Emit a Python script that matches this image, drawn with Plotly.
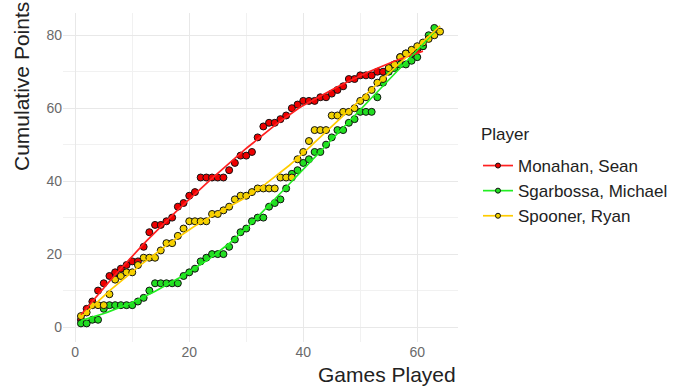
import numpy as np
import plotly.graph_objects as go

# Cumulative points after each game played
monahan = [2, 5, 7, 10, 12, 14, 15, 16, 17, 18, 18, 22, 26, 28, 28, 29, 30, 33, 34, 36,
           37, 41, 41, 41, 41, 41, 43, 45, 47, 47, 48, 52, 55, 56, 56, 57, 58, 60, 61, 62,
           62, 62, 63, 63, 64, 65, 66, 68, 68, 69, 69, 69, 70, 70, 71, 72, 74, 75, 75, 76,
           77]
sgarbossa = [1, 1, 2, 2, 5, 6, 6, 6, 6, 6, 7, 8, 10, 12, 12, 12, 12, 12, 14, 15,
             16, 18, 19, 20, 20, 20, 22, 24, 26, 27, 29, 30, 30, 33, 34, 35, 38, 42, 43, 45,
             46, 48, 48, 50, 52, 54, 54, 56, 57, 59, 59, 59, 63, 67, 70, 71, 72, 72, 73, 74,
             77, 80, 82]
spooner = [3, 4, 6, 6, 6, 9, 13, 14, 15, 15, 17, 19, 19, 19, 21, 23, 23, 25, 27, 29,
           29, 29, 29, 31, 31, 32, 33, 35, 36, 36, 37, 38, 38, 38, 38, 41, 41, 41, 46, 48,
           51, 54, 54, 54, 58, 58, 59, 59, 60, 62, 63, 65, 67, 68, 71, 72, 74, 75, 76, 77,
           78, 79, 80, 81]

players = ["Monahan, Sean", "Sgarbossa, Michael", "Spooner, Ryan"]
series = [monahan, sgarbossa, spooner]
point_fill = ["#ee0000", "#22dd22", "#f2d200"]
line_color = ["#ff2020", "#22ee22", "#ffcc00"]

x_ticks = [0, 20, 40, 60]
y_ticks = [0, 20, 40, 60, 80]


def loess(x, y, xs, span=0.75):
    """Local quadratic regression with tricube weights (like R's loess)."""
    x = np.asarray(x, float)
    y = np.asarray(y, float)
    q = int(np.floor(len(x) * span))
    out = []
    for x0 in xs:
        d = np.abs(x - x0)
        h = np.sort(d)[q - 1]
        w = np.clip(1 - (d / h) ** 3, 0, None) ** 3
        coef = np.polyfit(x, y, 2, w=np.sqrt(w))
        out.append(np.polyval(coef, x0))
    return np.array(out)


fig = go.Figure()

for name, vals, fcol, lcol in zip(players, series, point_fill, line_color):
    games = np.arange(1, len(vals) + 1)
    fig.add_trace(go.Scatter(
        x=games, y=vals, mode="markers", legendgroup=name, showlegend=False,
        marker=dict(size=7, color=fcol, line=dict(color="#111111", width=1)),
        hoverinfo="x+y+name", name=name))

for name, vals, fcol, lcol in zip(players, series, point_fill, line_color):
    games = np.arange(1, len(vals) + 1)
    xs = np.linspace(games[0], games[-1], 120)
    fig.add_trace(go.Scatter(
        x=xs, y=loess(games, vals, xs), mode="lines", legendgroup=name,
        showlegend=False, line=dict(color=lcol, width=1.7), hoverinfo="skip"))

# legend keys: line with dot, as in the plot
for name, fcol, lcol in zip(players, point_fill, line_color):
    fig.add_trace(go.Scatter(
        x=[None], y=[None], mode="lines+markers", name=name, legendgroup=name,
        line=dict(color=lcol, width=1.7),
        marker=dict(size=5, color=fcol, line=dict(color="#111111", width=1))))

font = "Liberation Sans, Arial, sans-serif"
fig.update_layout(
    width=674, height=388,
    margin=dict(l=63, r=216, t=13, b=46, autoexpand=False),
    paper_bgcolor="white", plot_bgcolor="white",
    font=dict(family=font, color="#222222"),
    showlegend=True,
    legend=dict(
        font=dict(size=17, color="#222222"),
        x=1.0506, xanchor="left", xref="paper", y=1 - (148 - 13) / 329, yanchor="top",
        tracegroupgap=0, bgcolor="rgba(0,0,0,0)", itemwidth=30),
    xaxis=dict(
        range=[-2.15, 67.15], tickvals=x_ticks, ticktext=[str(v) for v in x_ticks],
        showgrid=True, gridcolor="#e8e8e8", gridwidth=1, zeroline=False,
        showline=False, ticks="", tickfont=dict(size=14, color="#6a6a6a"),
        minor=dict(dtick=10, tick0=0, showgrid=True, gridcolor="#f1f1f1", gridwidth=1)),
    yaxis=dict(
        range=[-4.1, 86.1], tickvals=y_ticks, ticktext=[str(v) for v in y_ticks],
        showgrid=True, gridcolor="#e8e8e8", gridwidth=1, zeroline=False,
        showline=False, ticks="", tickfont=dict(size=14, color="#6a6a6a"),
        minor=dict(dtick=10, tick0=0, showgrid=True, gridcolor="#f1f1f1", gridwidth=1)),
    annotations=[
        dict(text="Games Played", xref="paper", yref="paper", x=1.0, y=0,
             xanchor="right", yanchor="top", yshift=-19, showarrow=False,
             font=dict(size=21, color="#222222")),
        dict(text="Cumulative Points", xref="paper", yref="paper", x=0, y=1.0,
             xanchor="right", yanchor="top", xshift=-28, yshift=13, textangle=-90,
             showarrow=False, font=dict(size=21, color="#222222")),
        dict(text="Player", xref="paper", yref="paper", x=1.0532, y=1 - (134 - 13) / 329,
             xanchor="left", yanchor="middle", showarrow=False,
             font=dict(size=17, color="#222222")),
    ],
)

fig.write_html("out.html")
